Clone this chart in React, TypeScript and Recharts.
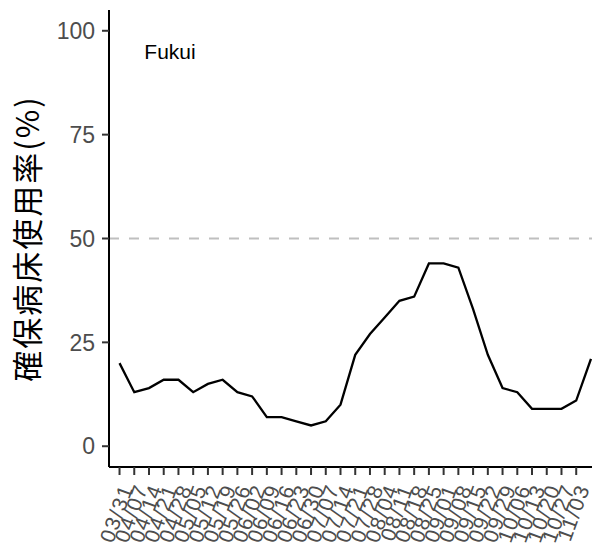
import React from 'react'
import { LineChart, Line, XAxis, YAxis, ReferenceLine, ReferenceDot } from 'recharts'

// weekly dates (days since 03/31) and occupancy of secured beds (%)
const days = [
  0, 7, 14, 21, 28, 35, 42, 49, 56, 63, 70, 77, 84, 91, 98, 105, 112,
  119, 126, 133, 140, 147, 154, 161, 168, 175, 182, 189, 196, 203, 210, 217, 224,
]
const usage = [
  20, 13, 14, 16, 16, 13, 15, 16, 13, 12, 7, 7, 6, 5, 6, 10, 22,
  27, 31, 35, 36, 44, 44, 43, 33, 22, 14, 13, 9, 9, 9, 11, 21,
]
const tickDays = days.slice(0, 32)
const tickLabels = [
  '03/31', '04/07', '04/14', '04/21', '04/28', '05/05', '05/12', '05/19',
  '05/26', '06/02', '06/09', '06/16', '06/23', '06/30', '07/07', '07/14',
  '07/21', '07/28', '08/04', '08/11', '08/18', '08/25', '09/01', '09/08',
  '09/15', '09/22', '09/29', '10/06', '10/13', '10/20', '10/27', '11/03',
]
const yTicks = [0, 25, 50, 75, 100]
const threshold = 50
const region = 'Fukui'

const data = days.map((d, i) => ({ day: d, value: usage[i] }))

const sans = 'Liberation Sans, Arial, sans-serif'

function DateTick(props: any) {
  const { x, y, payload } = props
  const idx = tickDays.indexOf(payload.value)
  return (
    <g transform={`translate(${x + 7},${y + 8})`}>
      <text
        transform="rotate(-70)"
        textAnchor="end"
        dominantBaseline="central"
        fill="#4d4d4d"
        fontSize={21}
        letterSpacing={1.5}
        fontFamily={sans}
      >
        {tickLabels[idx]}
      </text>
    </g>
  )
}

export default function App() {
  return (
    <div style={{ width: 596, height: 543, background: '#fff' }}>
      <style>{'body{margin:0}'}</style>
      <LineChart
        width={596}
        height={543}
        data={data}
        margin={{ top: 10, right: 4, bottom: 0, left: 0 }}
      >
        <XAxis
          dataKey="day"
          type="number"
          domain={[-5, 224.5]}
          ticks={tickDays}
          interval={0}
          height={76}
          stroke="#000"
          strokeWidth={2}
          tickLine={{ stroke: '#333', strokeWidth: 2 }}
          tickSize={8}
          tick={<DateTick />}
          allowDataOverflow
        />
        <YAxis
          type="number"
          domain={[-5, 105]}
          ticks={yTicks}
          width={109}
          stroke="#000"
          strokeWidth={2}
          tickLine={{ stroke: '#333', strokeWidth: 2 }}
          tickSize={7}
          tickMargin={7}
          tick={{ fill: '#4d4d4d', fontSize: 23, fontFamily: sans }}
          label={{
            value: '確保病床使用率(%)',
            angle: -90,
            position: 'insideLeft',
            offset: 28,
            style: {
              textAnchor: 'middle',
              fill: '#000',
              fontSize: 31,
              letterSpacing: 2,
              fontFamily: 'Noto Sans CJK JP',
            },
          }}
        />
        <ReferenceLine
          y={threshold}
          stroke="#bfbfbf"
          strokeWidth={2}
          strokeDasharray="10 10"
        />
        <ReferenceDot
          x={24}
          y={95}
          r={0}
          fill="none"
          stroke="none"
          label={{
            value: region,
            position: 'center',
            fill: '#000',
            fontSize: 21,
            fontFamily: sans,
          }}
        />
        <Line
          dataKey="value"
          type="linear"
          stroke="#000"
          strokeWidth={2.3}
          dot={false}
          isAnimationActive={false}
        />
      </LineChart>
    </div>
  )
}
